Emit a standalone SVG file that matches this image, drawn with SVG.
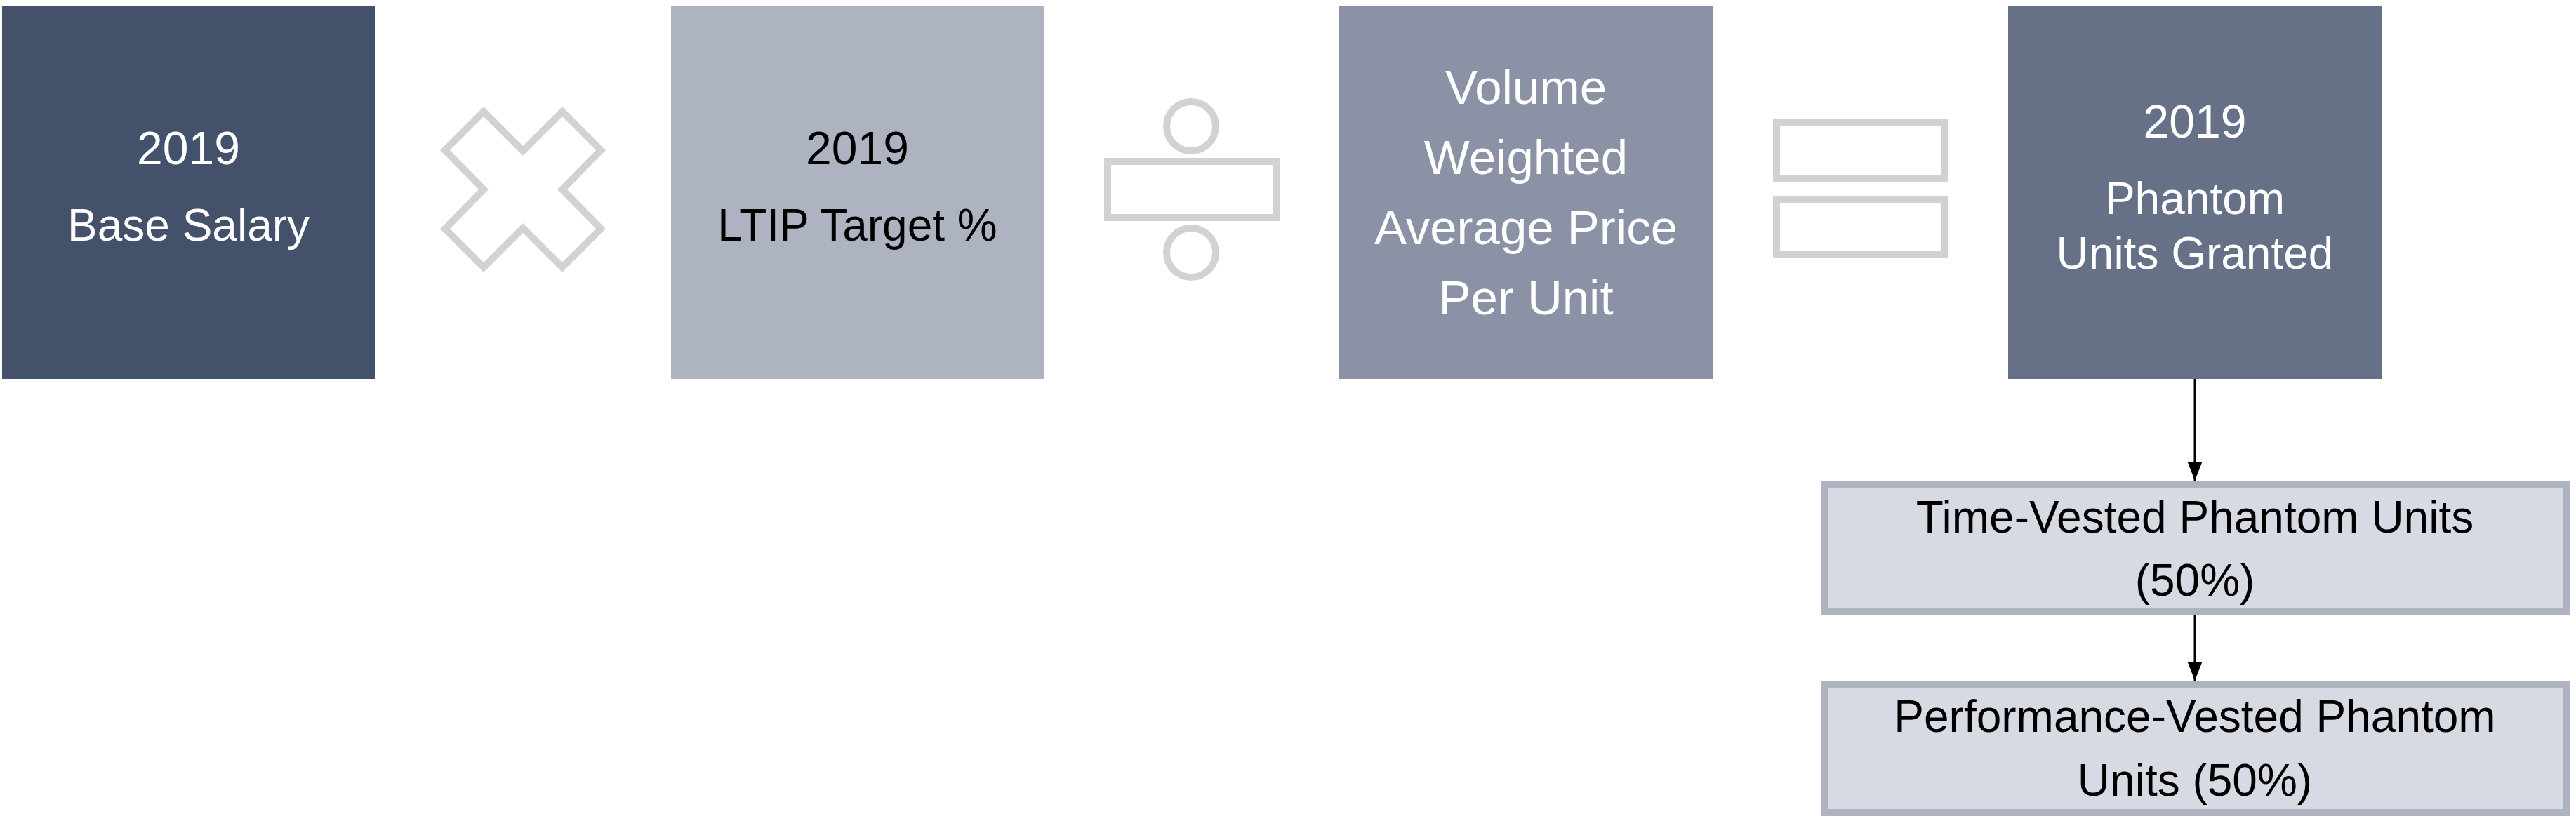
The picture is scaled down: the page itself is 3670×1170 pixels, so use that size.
<svg xmlns="http://www.w3.org/2000/svg" width="3670" height="1170" viewBox="0 0 3670 1170">
  <defs>
    <style>
      text { font-family: "Liberation Sans", Arial, Helvetica, sans-serif; text-anchor: middle; }
      .w { fill: #FFFFFF; }
      .k { fill: #000000; }
      .op { fill: none; stroke: #D1D2D4; stroke-width: 10; }
      .sub { fill: #D7DAE2; stroke: #ADB3C0; stroke-width: 10; }
      .conn { stroke: #000000; stroke-width: 3; fill: none; }
    </style>
    <marker id="ah" viewBox="0 0 27 21" refX="27" refY="10.5" markerWidth="27" markerHeight="21" markerUnits="userSpaceOnUse" orient="auto">
      <path d="M0,0 L27,10.5 L0,21 Z" fill="#000000"/>
    </marker>
  </defs>
  <rect width="3670" height="1170" fill="#FFFFFF"/>

  <g id="base-salary">
    <rect x="3" y="9" width="531" height="531" fill="#43516A"/>
    <text class="w" x="268.5" y="234" font-size="66">2019</text>
    <text class="w" x="268.5" y="343" font-size="64">Base Salary</text>
  </g>

  <g id="op-multiply">
    <polygon class="op" stroke-width="9" points="689,159 745,215 801,159 856,214 801,270 856,326 801,381 745,325 689,381 634,326 689,270 634,214"/>
  </g>

  <g id="ltip-target">
    <rect x="956" y="9" width="531" height="531" fill="#ADB3C0"/>
    <text class="k" x="1221.5" y="234" font-size="66">2019</text>
    <text class="k" x="1221.5" y="343" font-size="64">LTIP Target %</text>
  </g>

  <g id="op-divide">
    <circle class="op" cx="1697" cy="180" r="35"/>
    <rect class="op" x="1578" y="230" width="240" height="80"/>
    <circle class="op" cx="1697" cy="360" r="35"/>
  </g>

  <g id="vwap">
    <rect x="1908" y="9" width="532" height="531" fill="#8B92A5"/>
    <text class="w" x="2174" y="148" font-size="69">Volume</text>
    <text class="w" x="2174" y="248" font-size="69">Weighted</text>
    <text class="w" x="2174" y="348" font-size="69">Average Price</text>
    <text class="w" x="2174" y="448" font-size="69">Per Unit</text>
  </g>

  <g id="op-equals">
    <rect class="op" x="2531" y="175" width="240" height="79"/>
    <rect class="op" x="2531" y="284" width="240" height="79"/>
  </g>

  <g id="phantom-units-granted">
    <rect x="2861" y="9" width="532" height="531" fill="#667087"/>
    <text class="w" x="3127" y="196" font-size="66">2019</text>
    <text class="w" x="3127" y="305" font-size="64">Phantom</text>
    <text class="w" x="3127" y="383" font-size="64">Units Granted</text>
  </g>

  <g id="time-vested">
    <rect class="sub" x="2599" y="690" width="1057" height="182"/>
    <text class="k" x="3127" y="759" font-size="64">Time-Vested Phantom Units</text>
    <text class="k" x="3127" y="849" font-size="64">(50%)</text>
  </g>

  <g id="performance-vested">
    <rect class="sub" x="2599" y="975" width="1057" height="183"/>
    <text class="k" x="3127" y="1043" font-size="64">Performance-Vested Phantom</text>
    <text class="k" x="3127" y="1134" font-size="64">Units (50%)</text>
  </g>

  <g id="connectors">
    <line class="conn" x1="3127" y1="540" x2="3127" y2="685" marker-end="url(#ah)"/>
    <line class="conn" x1="3127" y1="877" x2="3127" y2="970" marker-end="url(#ah)"/>
  </g>
</svg>
